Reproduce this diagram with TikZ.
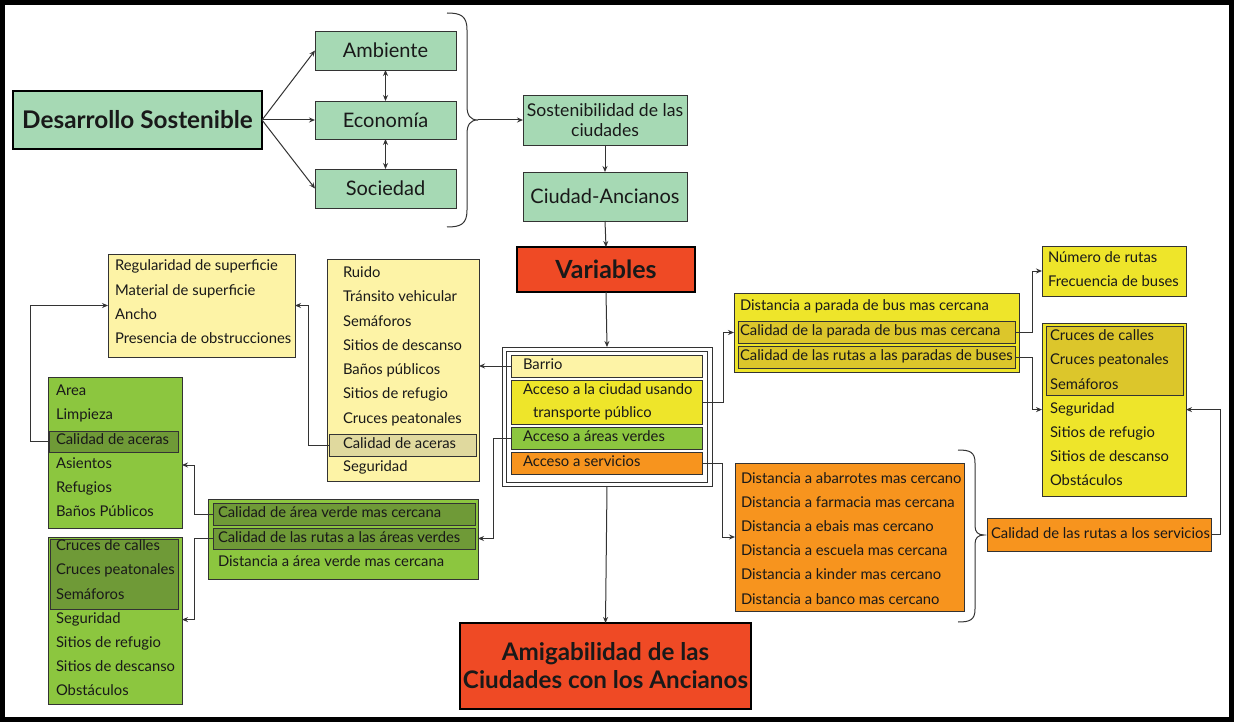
\documentclass[tikz,border=0pt]{standalone}
\usepackage{fontspec}
\setmainfont{Lato}
\usetikzlibrary{arrows.meta}
\definecolor{mint}{HTML}{A6D9B4}
\definecolor{redv}{HTML}{EF4A25}
\definecolor{paley}{HTML}{FDF3A6}
\definecolor{khaki}{HTML}{E0D99E}
\definecolor{yel}{HTML}{EEE52A}
\definecolor{dyel}{HTML}{DCC62B}
\definecolor{grn}{HTML}{8CC63F}
\definecolor{dgrn}{HTML}{6F9A37}
\definecolor{org}{HTML}{F7941E}
\definecolor{lineC}{HTML}{333333}
\tikzset{
  every node/.style={font=\fontsize{14.8}{17}\selectfont, inner sep=0pt, outer sep=0pt, text=black!90},
  box/.style={draw=lineC, line width=0.8pt, anchor=north west},
  bigbox/.style={draw=black, line width=1.8pt, anchor=north west},
  item/.style={anchor=west, text height=10pt, text depth=2.8pt},
  arr/.style={draw=lineC, line width=1pt, -{Stealth[length=6pt,width=5pt,inset=2pt]}},
  darr/.style={draw=lineC, line width=1pt, {Stealth[length=6pt,width=5pt,inset=2pt]}-{Stealth[length=6pt,width=5pt,inset=2pt]}},
  link/.style={draw=lineC, line width=1pt}
}
\begin{document}
\begin{tikzpicture}[x=1pt,y=-1pt]
\useasboundingbox (0,0) rectangle (1234,722);
\fill[white] (0,0) rectangle (1234,722);
\draw[line width=5pt] (2.5,2.5) rectangle (1231.5,719);

% top part
\node[bigbox, fill=mint, minimum width=249, minimum height=58, font=\fontsize{24.3}{26}\selectfont\bfseries] (ds) at (13,91) {Desarrollo Sostenible};
\node[box, fill=mint, minimum width=141, minimum height=39, font=\fontsize{20}{22}\selectfont] (amb) at (315,31) {Ambiente};
\node[box, fill=mint, minimum width=141, minimum height=38, font=\fontsize{20}{22}\selectfont] (eco) at (315,101) {Economía};
\node[box, fill=mint, minimum width=141, minimum height=39, font=\fontsize{20}{22}\selectfont] (soc) at (315,169) {Sociedad};
\draw[arr] (ds.east) -- (amb.west);
\draw[arr] (ds.east) -- (eco.west);
\draw[arr] (ds.east) -- (soc.west);
\draw[darr] (amb.south) -- (eco.north);
\draw[darr] (eco.south) -- (soc.north);

\draw[link] (447,13) .. controls (461,13) and (467,16) .. (467,30) -- (467,106) .. controls (467,115) and (470,120) .. (478,120) .. controls (470,120) and (467,125) .. (467,134) -- (467,210) .. controls (467,224) and (461,227) .. (447,227);
\coordinate (brA) at (478,120);

\node[box, fill=mint, minimum width=164, minimum height=50, align=center, font=\fontsize{17.6}{20.5}\selectfont] (sost) at (523,95) {Sostenibilidad de las\\ciudades};
\node[box, fill=mint, minimum width=164, minimum height=49, font=\fontsize{20}{22}\selectfont] (ciud) at (523,172) {Ciudad-Ancianos};
\node[bigbox, fill=redv, minimum width=178, minimum height=45, font=\fontsize{25}{27}\selectfont\bfseries] (var) at (517,247) {Variables};
\draw[arr] (brA) -- (sost.west);
\draw[arr] (sost.south) -- (ciud.north);
\draw[arr] (ciud.south) -- (var.north);

% central group
\node[box, minimum width=210, minimum height=139] (grp) at (502,347) {};
\node[box, minimum width=201, minimum height=131] (grpi) at (506,351) {};
\node[box, fill=paley, minimum width=191, minimum height=22] (barrio) at (511,355) {};
\node[item] (barrioT) at (523,366) {Barrio};
\node[box, fill=yel, minimum width=191, minimum height=44] (accC) at (511,380) {};
\node[item] (accCT1) at (523,391) {Acceso a la ciudad usando};
\node[item] (accCT2) at (533,414) {transporte público};
\node[box, fill=grn, minimum width=191, minimum height=22] (accV) at (511,427) {};
\node[item] (accVT) at (523,438) {Acceso a áreas verdes};
\node[box, fill=org, minimum width=191, minimum height=22] (accS) at (511,452) {};
\node[item] (accST) at (523,463) {Acceso a servicios};
\draw[arr] (var.south) -- (grp.north);

\node[bigbox, fill=redv, minimum width=291, minimum height=86, align=center, font=\fontsize{24.2}{28}\selectfont\bfseries] (amig) at (460,623) {Amigabilidad de las\\Ciudades con los Ancianos};
\draw[arr] (grp.south) -- (amig.north);

% Regularidad box
\node[box, fill=paley, minimum width=187, minimum height=103] (reg) at (108,254) {};
\node[item] (reg1) at (115,267) {Regularidad de superficie};
\node[item] (reg2) at (115,292) {Material de superficie};
\node[item] (reg3) at (115,316) {Ancho};
\node[item] (reg4) at (115,340) {Presencia de obstrucciones};

% Ruido box
\node[box, fill=paley, minimum width=152, minimum height=222] (ruido) at (327,259) {};
\node[box, fill=khaki, minimum width=147, minimum height=22] (ruidoHL) at (329,434) {};
\node[item] (ru1) at (343,274) {Ruido};
\node[item] (ru2) at (343,298.25) {Tránsito vehicular};
\node[item] (ru3) at (343,322.5) {Semáforos};
\node[item] (ru4) at (343,346.75) {Sitios de descanso};
\node[item] (ru5) at (343,371) {Baños públicos};
\node[item] (ru6) at (343,395.25) {Sitios de refugio};
\node[item] (ru7) at (343,419.5) {Cruces peatonales};
\node[item] (ru8) at (343,444.5) {Calidad de aceras};
\node[item] (ru9) at (343,468) {Seguridad};

% Area box
\node[box, fill=grn, minimum width=134, minimum height=151] (area) at (48,377) {};
\node[box, fill=dgrn, minimum width=129, minimum height=21] (areaHL) at (49,431) {};
\node[item] (ar1) at (56,392) {Area};
\node[item] (ar2) at (56,416.3) {Limpieza};
\node[item] (ar3) at (56,441) {Calidad de aceras};
\node[item] (ar4) at (56,465) {Asientos};
\node[item] (ar5) at (56,489) {Refugios};
\node[item] (ar6) at (56,513) {Baños Públicos};

% green 2
\node[box, fill=grn, minimum width=270, minimum height=80] (gv) at (208,499) {};
\node[box, fill=dgrn, minimum width=262, minimum height=22] (gvHL1) at (213,503) {};
\node[box, fill=dgrn, minimum width=262, minimum height=21] (gvHL2) at (213,528) {};
\node[item] (gv1) at (218,514) {Calidad de área verde mas cercana};
\node[item] (gv2) at (218,538.5) {Calidad de las rutas a las áreas verdes};
\node[item] (gv3) at (218,563) {Distancia a área verde mas cercana};

% Cruces left
\node[box, fill=grn, minimum width=134, minimum height=167] (crL) at (48,537) {};
\node[box, fill=dgrn, minimum width=128, minimum height=70] (crLHL) at (50,539) {};
\node[item] (cl1) at (56,547) {Cruces de calles};
\node[item] (cl2) at (56,571.2) {Cruces peatonales};
\node[item] (cl3) at (56,595.4) {Semáforos};
\node[item] (cl4) at (56,619.6) {Seguridad};
\node[item] (cl5) at (56,643.8) {Sitios de refugio};
\node[item] (cl6) at (56,668) {Sitios de descanso};
\node[item] (cl7) at (56,692.2) {Obstáculos};

% Parada box
\node[box, fill=yel, minimum width=285, minimum height=79] (par) at (734,293) {};
\node[box, fill=dyel, minimum width=277, minimum height=22] (parHL1) at (738,321) {};
\node[box, fill=dyel, minimum width=277, minimum height=22] (parHL2) at (738,346) {};
\node[item] (pa1) at (740,307) {Distancia a parada de bus mas cercana};
\node[item] (pa2) at (740,332) {Calidad de la parada de bus mas cercana};
\node[item] (pa3) at (740,357) {Calidad de las rutas a las paradas de buses};

% Numero box
\node[box, fill=yel, minimum width=144, minimum height=50] (num) at (1042,246) {};
\node[item] (nu1) at (1048,259) {Número de rutas};
\node[item] (nu2) at (1048,283) {Frecuencia de buses};

% Cruces right
\node[box, fill=yel, minimum width=144, minimum height=173] (crR) at (1042,323) {};
\node[box, fill=dyel, minimum width=137, minimum height=69] (crRHL) at (1046,326) {};
\node[item] (cr1) at (1050,337) {Cruces de calles};
\node[item] (cr2) at (1050,361.2) {Cruces peatonales};
\node[item] (cr3) at (1050,385.4) {Semáforos};
\node[item] (cr4) at (1050,409.6) {Seguridad};
\node[item] (cr5) at (1050,433.8) {Sitios de refugio};
\node[item] (cr6) at (1050,458) {Sitios de descanso};
\node[item] (cr7) at (1050,482.2) {Obstáculos};

% Distancia box
\node[box, fill=org, minimum width=229, minimum height=148] (dist) at (735,463) {};
\node[item] (di1) at (741,479.5) {Distancia a abarrotes mas cercano};
\node[item] (di2) at (741,503.7) {Distancia a farmacia mas cercana};
\node[item] (di3) at (741,527.9) {Distancia a ebais mas cercano};
\node[item] (di4) at (741,552.1) {Distancia a escuela mas cercana};
\node[item] (di5) at (741,576.3) {Distancia a kinder mas cercano};
\node[item] (di6) at (741,600.5) {Distancia a banco mas cercano};

\draw[link] (958,450) .. controls (970,450) and (975,452) .. (975,463) -- (975,526) .. controls (975,532) and (978,535) .. (984,535) .. controls (978,535) and (975,538) .. (975,544) -- (975,609) .. controls (975,620) and (970,622) .. (958,622);

\node[box, fill=org, minimum width=224, minimum height=33] (rs) at (987,518) {};
\node[item] (rsT) at (991,534.5) {Calidad de las rutas a los servicios};

% connectors
\draw[arr] (barrio.west) -- (barrio.west -| ruido.east);
\draw[arr] (ruidoHL.west) -- ++(-21,0) |- (reg.east);
\draw[arr] (areaHL.west) -- ++(-19,0) |- (reg.west);
\draw[arr] (gvHL1.west) -- ++(-19,0) |- (ar4.west -| area.east);
\draw[arr] (gvHL2.west) -- ++(-19,0) |- (cl4.west -| crL.east);
\draw[arr] (accV.west) -- ++(-18,0) |- (gvHL2.east -| gv.east);
\draw[arr] (accC.east) -- ++(21,0) |- (par.west);
\draw[arr] (parHL1.east) -- ++(17,0) |- (num.west);
\draw[arr] (parHL2.east) -- ++(17,0) |- (cr4.west -| crR.west);
\draw[arr] (accS.east) -- ++(20,0) |- (dist.west);
\draw[arr] (rs.east) -- ++(9,0) |- (cr4.west -| crR.east);
\end{tikzpicture}
\end{document}
